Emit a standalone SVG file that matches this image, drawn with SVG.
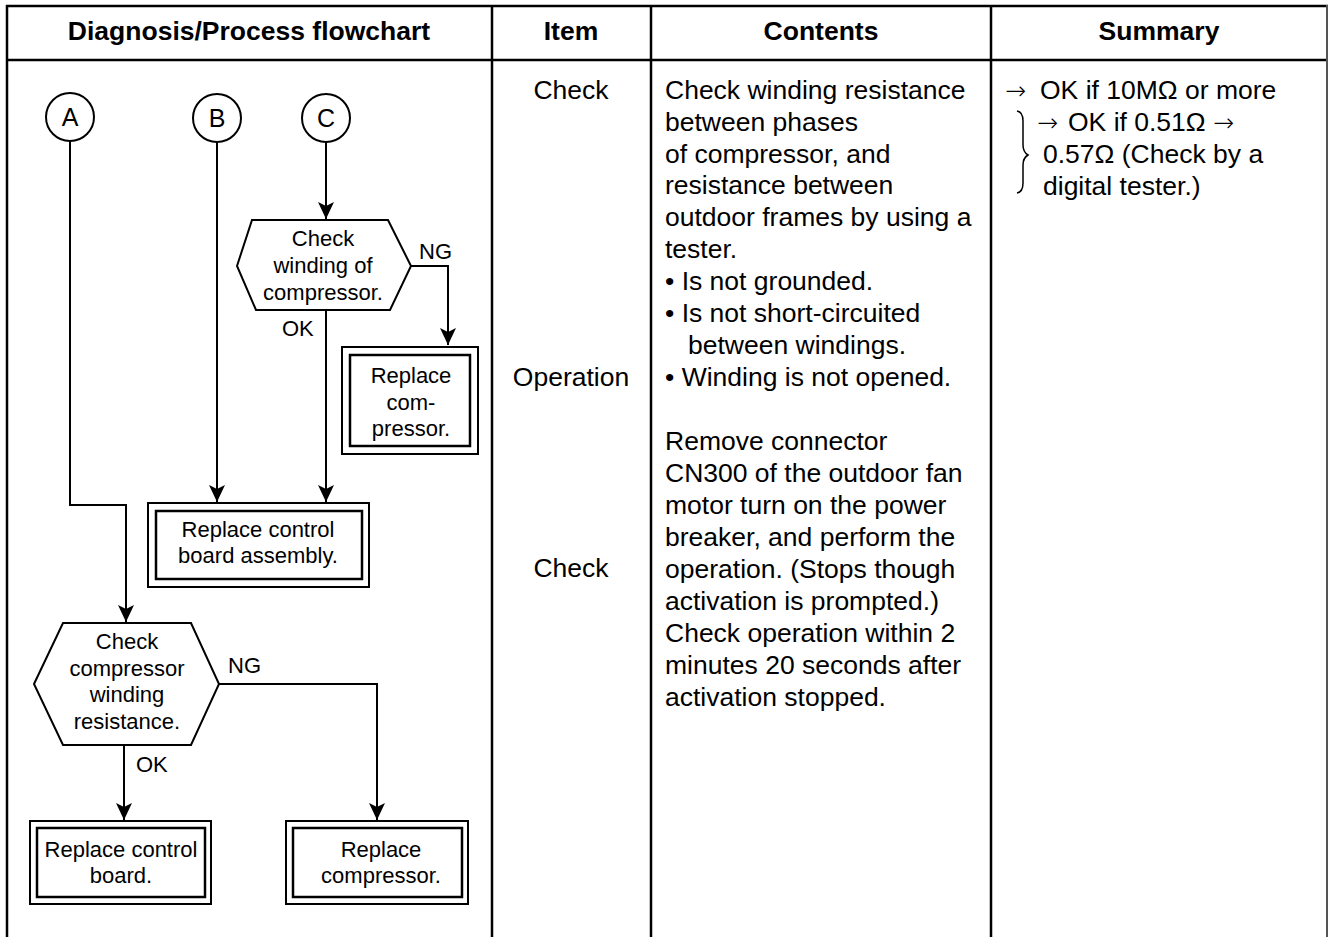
<svg xmlns="http://www.w3.org/2000/svg" width="1328" height="937" viewBox="0 0 1328 937">
  <style>
    .grid { stroke: #000; stroke-width: 2.5; fill: none; }
    .hdr { font-family: "Liberation Sans", Arial, sans-serif; font-size: 26.5px; font-weight: bold; fill: #000; text-anchor: middle; }
    .body { font-family: "Liberation Sans", Arial, sans-serif; font-size: 26.5px; fill: #000; }
    .item { text-anchor: middle; }
    .arw { font-family: "DejaVu Sans", sans-serif; font-size: 25px; font-weight: 200; }
    .fc { font-family: "Liberation Sans", Arial, sans-serif; font-size: 22px; fill: #000; }
    .lbl { font-family: "Liberation Sans", Arial, sans-serif; font-size: 25px; fill: #000; text-anchor: middle; }
    .mid { text-anchor: middle; }
    .shape { fill: #fff; stroke: #000; stroke-width: 2; }
    .outer { fill: #fff; stroke: #000; stroke-width: 2; }
    .inner { fill: none; stroke: #000; stroke-width: 2.5; }
    .flow { fill: none; stroke: #000; stroke-width: 2; marker-end: url(#arrow); }
    .line { fill: none; stroke: #000; stroke-width: 1.5; }
  </style>
  <defs>
    <marker id="arrow" markerUnits="userSpaceOnUse" viewBox="-18 -9 19 18" refX="0" refY="0" markerWidth="19" markerHeight="18" orient="auto">
      <path d="M0,0 L-17,-8 L-13,0 L-17,8 Z" fill="#000"/>
    </marker>
  </defs>

  <rect width="1328" height="937" fill="#fff"/>

  <!-- table frame -->
  <g id="table">
    <line class="grid" x1="6" y1="6" x2="1328" y2="6"/>
    <line class="grid" x1="6" y1="60" x2="1328" y2="60"/>
    <line class="grid" x1="7" y1="5" x2="7" y2="937"/>
    <line class="grid" x1="492" y1="5" x2="492" y2="937"/>
    <line class="grid" x1="651" y1="5" x2="651" y2="937"/>
    <line class="grid" x1="991" y1="5" x2="991" y2="937"/>
    <line x1="1327" y1="5" x2="1327" y2="937" stroke="#555" stroke-width="2"/>
    <text class="hdr" x="249" y="40">Diagnosis/Process flowchart</text>
    <text class="hdr" x="571" y="40">Item</text>
    <text class="hdr" x="821" y="40">Contents</text>
    <text class="hdr" x="1159" y="40">Summary</text>
  </g>

  <!-- connectors -->
  <g id="connectors">
    <path class="flow" d="M70,141 V505 H126 V622"/>
    <path class="flow" d="M217,142 V502"/>
    <path class="flow" d="M326,142 V219"/>
    <path class="flow" d="M326,310 V502"/>
    <path class="flow" d="M411,266 H448 V345"/>
    <path class="flow" d="M124,745 V820"/>
    <path class="flow" d="M219,684 H377 V820"/>
    <text class="fc" x="419" y="259">NG</text>
    <text class="fc" x="282" y="336">OK</text>
    <text class="fc" x="228" y="673">NG</text>
    <text class="fc" x="136" y="772">OK</text>
  </g>

  <!-- connector circles -->
  <g id="node-a">
    <circle class="shape" cx="70" cy="117" r="24"/>
    <text class="lbl" x="70" y="126">A</text>
  </g>
  <g id="node-b">
    <circle class="shape" cx="217" cy="118" r="24"/>
    <text class="lbl" x="217" y="127">B</text>
  </g>
  <g id="node-c">
    <circle class="shape" cx="326" cy="118" r="24"/>
    <text class="lbl" x="326" y="127">C</text>
  </g>

  <!-- decision: winding of compressor -->
  <g id="check-winding">
    <polygon class="shape" points="237,266 252,220 388,220 411,266 390,310 256,310"/>
    <text class="fc mid" x="323" y="246">Check</text>
    <text class="fc mid" x="323" y="273">winding of</text>
    <text class="fc mid" x="323" y="300">compressor.</text>
  </g>

  <!-- process: replace compressor (upper) -->
  <g id="replace-compressor-upper">
    <rect class="outer" x="342" y="347" width="136" height="107"/>
    <rect class="inner" x="350" y="355" width="120" height="91"/>
    <text class="fc mid" x="411" y="383">Replace</text>
    <text class="fc mid" x="411" y="410">com-</text>
    <text class="fc mid" x="411" y="436">pressor.</text>
  </g>

  <!-- process: replace control board assembly -->
  <g id="replace-board-assembly">
    <rect class="outer" x="148" y="503" width="221" height="84"/>
    <rect class="inner" x="156" y="511" width="206" height="68"/>
    <text class="fc mid" x="258" y="537">Replace control</text>
    <text class="fc mid" x="258" y="563">board assembly.</text>
  </g>

  <!-- decision: compressor winding resistance -->
  <g id="check-resistance">
    <polygon class="shape" points="34,684 63,623 191,623 219,684 191,745 63,745"/>
    <text class="fc mid" x="127" y="649">Check</text>
    <text class="fc mid" x="127" y="676">compressor</text>
    <text class="fc mid" x="127" y="702">winding</text>
    <text class="fc mid" x="127" y="729">resistance.</text>
  </g>

  <!-- process: replace control board -->
  <g id="replace-board">
    <rect class="outer" x="30" y="821" width="181" height="83"/>
    <rect class="inner" x="37" y="828" width="168" height="69"/>
    <text class="fc mid" x="121" y="857">Replace control</text>
    <text class="fc mid" x="121" y="883">board.</text>
  </g>

  <!-- process: replace compressor (lower) -->
  <g id="replace-compressor-lower">
    <rect class="outer" x="286" y="821" width="182" height="83"/>
    <rect class="inner" x="293" y="828" width="169" height="69"/>
    <text class="fc mid" x="381" y="857">Replace</text>
    <text class="fc mid" x="381" y="883">compressor.</text>
  </g>

  <!-- item column -->
  <g id="items">
    <text class="body item" x="571" y="99">Check</text>
    <text class="body item" x="571" y="386">Operation</text>
    <text class="body item" x="571" y="577">Check</text>
  </g>

  <!-- contents column -->
  <g id="contents">
    <text class="body" x="665" y="99">Check winding resistance</text>
    <text class="body" x="665" y="131">between phases</text>
    <text class="body" x="665" y="163">of compressor, and</text>
    <text class="body" x="665" y="194">resistance between</text>
    <text class="body" x="665" y="226">outdoor frames by using a</text>
    <text class="body" x="665" y="258">tester.</text>
    <text class="body" x="665" y="290">• Is not grounded.</text>
    <text class="body" x="665" y="322">• Is not short-circuited</text>
    <text class="body" x="688" y="354">between windings.</text>
    <text class="body" x="665" y="386">• Winding is not opened.</text>
    <text class="body" x="665" y="450">Remove connector</text>
    <text class="body" x="665" y="482">CN300 of the outdoor fan</text>
    <text class="body" x="665" y="514">motor turn on the power</text>
    <text class="body" x="665" y="546">breaker, and perform the</text>
    <text class="body" x="665" y="578">operation. (Stops though</text>
    <text class="body" x="665" y="610">activation is prompted.)</text>
    <text class="body" x="665" y="642">Check operation within 2</text>
    <text class="body" x="665" y="674">minutes 20 seconds after</text>
    <text class="body" x="665" y="706">activation stopped.</text>
  </g>

  <!-- summary column -->
  <g id="summary">
    <text class="body" y="99"><tspan class="arw" x="1005">→</tspan><tspan x="1040">OK if 10MΩ or more</tspan></text>
    <path class="line" d="M1017,111 Q1023,112 1023,121 V145 Q1023,152 1028,155 Q1023,158 1023,165 V183 Q1023,192 1017,193"/>
    <text class="body" y="131"><tspan class="arw" x="1037">→</tspan><tspan x="1068">OK if 0.51Ω </tspan><tspan class="arw">→</tspan></text>
    <text class="body" x="1043" y="163">0.57Ω (Check by a</text>
    <text class="body" x="1043" y="195">digital tester.)</text>
  </g>
</svg>
